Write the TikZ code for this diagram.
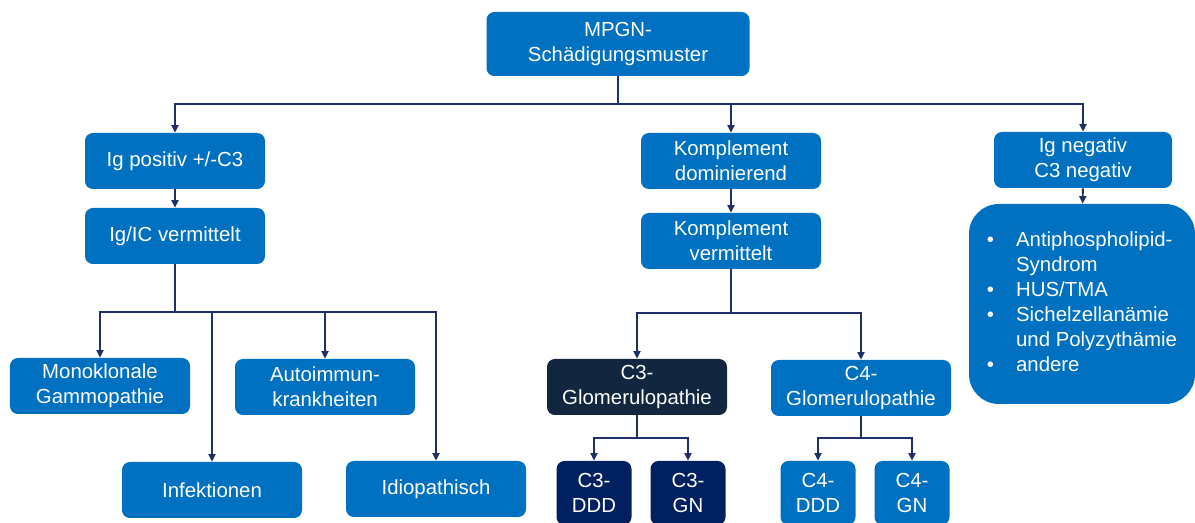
\documentclass[tikz,border=0pt]{standalone}
\usepackage{fontspec}
\setmainfont{Liberation Sans}
\usetikzlibrary{arrows.meta, positioning, calc}
\definecolor{boxblue}{HTML}{0070C0}
\definecolor{slate}{HTML}{12263F}
\definecolor{navy}{HTML}{002060}
\definecolor{linkc}{HTML}{1F3068}
\tikzset{
  box/.style    = {rounded corners=4.5pt, align=center, fill=boxblue,
                   text=white, minimum width=3.6cm, minimum height=1.12cm,
                   inner sep=2pt, font=\fontsize{11.6}{14.2}\selectfont},
  darkbox/.style = {box, fill=slate},
  small/.style  = {box, minimum width=1.5cm, minimum height=1.28cm},
  listbox/.style = {box, rounded corners=17pt, minimum width=4.52cm,
                   minimum height=4.0cm, align=left},
  link/.style   = {draw=linkc, line width=1.1pt},
  flow/.style   = {link, -{Triangle[length=1.5mm, width=1.4mm]}}
}

\begin{document}
\begin{tikzpicture}
\useasboundingbox (0,0) rectangle (23.9,-10.46);
% top level
\node[box, minimum width=5.26cm, minimum height=1.28cm] (mpgn) at (12.36,-0.88) {MPGN-\\Schädigungsmuster};
\node[box] (igpos)  at (3.5,-3.22)   {Ig positiv +/-C3};
\node[box] (igic)   at (3.5,-4.72)   {Ig/IC vermittelt};
\node[box] (komdom) at (14.62,-3.22) {Komplement\\dominierend};
\node[box] (komver) at (14.62,-4.82) {Komplement\\vermittelt};
\node[box, minimum width=3.56cm] (igneg) at (21.66,-3.2) {Ig negativ\\C3 negativ};
\node[listbox] (other) at (21.64,-6.08)
  {\begin{tabular}{@{}l@{\hspace{0.44cm}}l@{}}
   \textbullet & Antiphospholipid-\\
               & Syndrom\\
   \textbullet & HUS/TMA\\
   \textbullet & Sichelzellanämie\\
               & und Polyzythämie\\
   \textbullet & andere
   \end{tabular}};
% Ig branch
\node[box] (mono)   at (2.0,-7.72)  {Monoklonale\\Gammopathie};
\node[box] (auto)   at (6.5,-7.74)  {Autoimmun-\\krankheiten};
\node[box] (infekt) at (4.24,-9.8)  {Infektionen};
\node[box] (idio)   at (8.72,-9.78) {Idiopathisch};
% complement branch
\node[darkbox] (c3g) at (12.74,-7.74) {C3-\\Glomerulopathie};
\node[box]     (c4g) at (17.22,-7.76) {C4-\\Glomerulopathie};
\node[small, fill=navy] (c3ddd) at (11.88,-9.86) {C3-\\DDD};
\node[small, fill=navy] (c3gn)  at (13.76,-9.86) {C3-\\GN};
\node[small] (c4ddd) at (16.36,-9.86) {C4-\\DDD};
\node[small] (c4gn)  at (18.24,-9.86) {C4-\\GN};

% connectors
\draw[link] (mpgn.south) -- ++(0,-0.56) coordinate (b1);
\foreach \n in {igpos, komdom, igneg} \draw[flow] (b1) -| (\n.north);
\draw[flow] (igpos) -- (igic);
\draw[flow] (komdom) -- (komver);
\draw[flow] (igneg) -- (other);

\draw[link] (igic.south) -- ++(0,-0.96) coordinate (b2);
\foreach \n in {mono, infekt, auto, idio} \draw[flow] (b2) -| (\n.north);

\draw[link] (komver.south) -- ++(0,-0.88) coordinate (b3);
\foreach \n in {c3g, c4g} \draw[flow] (b3) -| (\n.north);

\draw[link] (c3g.south) -- ++(0,-0.46) coordinate (b4);
\foreach \n in {c3ddd, c3gn} \draw[flow] (b4) -| (\n.north);
\draw[link] (c4g.south) -- ++(0,-0.44) coordinate (b5);
\foreach \n in {c4ddd, c4gn} \draw[flow] (b5) -| (\n.north);
\end{tikzpicture}
\end{document}
